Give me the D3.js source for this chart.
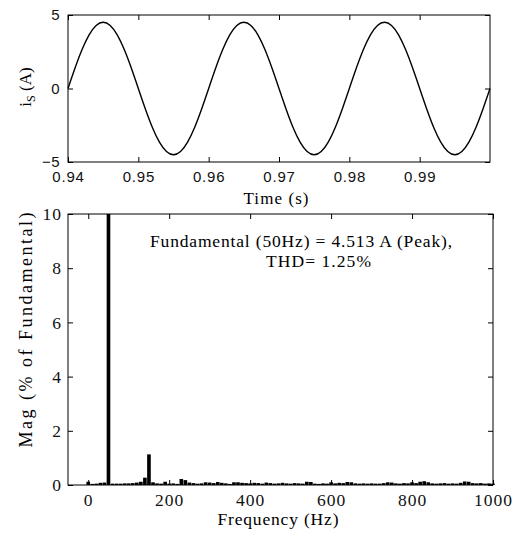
<!DOCTYPE html>
<html><head><meta charset="utf-8">
<script src="https://cdn.jsdelivr.net/npm/d3@7"></script>
<style>body{margin:0;background:#fff}svg{display:block}</style>
</head><body>
<svg id="c" width="518" height="533"></svg>
<script>
// ---- data ----
const timeValues = [0.940,0.941,0.942,0.943,0.944,0.945,0.946,0.947,0.948,0.949,
  0.950,0.951,0.952,0.953,0.954,0.955,0.956,0.957,0.958,0.959,
  0.960,0.961,0.962,0.963,0.964,0.965,0.966,0.967,0.968,0.969,
  0.970,0.971,0.972,0.973,0.974,0.975,0.976,0.977,0.978,0.979,
  0.980,0.981,0.982,0.983,0.984,0.985,0.986,0.987,0.988,0.989,
  0.990,0.991,0.992,0.993,0.994,0.995,0.996,0.997,0.998,0.999,1.000];
const currentValues = [0,1.39,2.65,3.65,4.29,4.51,4.29,3.65,2.65,1.39,
  0,-1.39,-2.65,-3.65,-4.29,-4.51,-4.29,-3.65,-2.65,-1.39,
  0,1.39,2.65,3.65,4.29,4.51,4.29,3.65,2.65,1.39,
  0,-1.39,-2.65,-3.65,-4.29,-4.51,-4.29,-3.65,-2.65,-1.39,
  0,1.39,2.65,3.65,4.29,4.51,4.29,3.65,2.65,1.39,
  0,-1.39,-2.65,-3.65,-4.29,-4.51,-4.29,-3.65,-2.65,-1.39,0];
const timeTicks = [0.94,0.95,0.96,0.97,0.98,0.99];
const currentTicks = [-5,0,5];

const freqValues = [0,10,20,30,40,50,60,70,80,90,100,110,120,130,140,150,160,170,180,190,
  200,210,220,230,240,250,260,270,280,290,300,310,320,330,340,350,360,370,380,390,
  400,410,420,430,440,450,460,470,480,490,500,510,520,530,540,550,560,570,580,590,
  600,610,620,630,640,650,660,670,680,690,700,710,720,730,740,750,760,770,780,790,
  800,810,820,830,840,850,860,870,880,890,900,910,920,930,940,950,960,970,980,990,1000];
const magValues = [0.12,0.04,0.05,0.08,0.09,100,0.05,0.05,0.05,0.06,0.06,0.07,0.09,0.12,0.27,1.13,0.10,0.06,0.05,0.12,
  0.05,0.06,0.04,0.22,0.18,0.09,0.07,0.05,0.06,0.10,0.09,0.07,0.11,0.08,0.06,0.04,0.10,0.10,0.08,0.07,
  0.06,0.08,0.07,0.05,0.09,0.07,0.05,0.06,0.08,0.06,0.05,0.07,0.06,0.05,0.12,0.11,0.05,0.04,0.06,0.05,
  0.10,0.06,0.08,0.07,0.11,0.10,0.06,0.05,0.06,0.05,0.06,0.05,0.05,0.07,0.10,0.09,0.06,0.05,0.07,0.06,
  0.10,0.07,0.12,0.14,0.10,0.06,0.05,0.06,0.07,0.05,0.06,0.05,0.08,0.13,0.12,0.07,0.06,0.07,0.05,0.06,0.05];
const freqTicks = [0,200,400,600,800,1000];
const magTicks = [0,2,4,6,8,10];
const annotationLines = ["Fundamental (50Hz) = 4.513 A (Peak),", "THD= 1.25%"];

// ---- drawing ----
const svg = d3.select("#c");
svg.append("rect").attr("width",518).attr("height",533).attr("fill","#fff");
const serif = "'Liberation Serif','Times New Roman',serif";
const sans = "'Liberation Sans',Arial,sans-serif";

// Top plot
const T = {l:68, r:490, t:15, b:162};
const xT = d3.scaleLinear().domain([0.94,1.0]).range([T.l,T.r]);
const yT = d3.scaleLinear().domain([-5,5]).range([T.b,T.t]);
const gT = svg.append("g");

function styleAxis(g, font, size, ls){
  g.select(".domain").remove();
  g.selectAll(".tick line").attr("stroke","#000").attr("stroke-width",1);
  g.selectAll(".tick text").attr("font-family",font).attr("font-size",size).attr("fill","#111")
    .attr("letter-spacing", ls||0);
}
gT.append("g").attr("transform",`translate(0,${T.b})`)
  .call(d3.axisBottom(xT).tickValues(timeTicks).tickFormat(d3.format(".2f")).tickSizeInner(-5).tickSizeOuter(0).tickPadding(9))
  .call(g=>styleAxis(g,sans,15,0.8));
gT.append("g").attr("transform",`translate(0,${T.t})`)
  .call(d3.axisTop(xT).tickValues(timeTicks).tickFormat("").tickSizeInner(-5).tickSizeOuter(0))
  .call(g=>styleAxis(g,sans,15));
gT.append("g").attr("transform",`translate(${T.l},0)`)
  .call(d3.axisLeft(yT).tickValues(currentTicks).tickFormat(d3.format("d")).tickSizeInner(-5).tickSizeOuter(0).tickPadding(8))
  .call(g=>styleAxis(g,sans,15,0.5));
gT.append("g").attr("transform",`translate(${T.r},0)`)
  .call(d3.axisRight(yT).tickValues(currentTicks).tickFormat("").tickSizeInner(-5).tickSizeOuter(0))
  .call(g=>styleAxis(g,sans,15));
gT.append("path")
  .datum(timeValues.map((t,i)=>[t,currentValues[i]]))
  .attr("fill","none").attr("stroke","#000").attr("stroke-width",1.4)
  .attr("d", d3.line().x(d=>xT(d[0])).y(d=>yT(d[1])).curve(d3.curveNatural));
gT.append("rect").attr("x",T.l).attr("y",T.t).attr("width",T.r-T.l).attr("height",T.b-T.t)
  .attr("fill","none").attr("stroke","#000").attr("stroke-width",1);
// labels
const yl = gT.append("text").attr("transform","translate(31,87) rotate(-90)")
  .attr("text-anchor","middle").attr("font-family",serif).attr("font-size",17).attr("fill","#000");
yl.append("tspan").text("i");
yl.append("tspan").attr("font-size",12).attr("dy",4).text("S");
yl.append("tspan").attr("dy",-4).text(" (A)");
gT.append("text").attr("x",276).attr("y",204).attr("text-anchor","middle")
  .attr("font-family",serif).attr("font-size",17).attr("textLength",65).attr("lengthAdjust","spacing")
  .attr("fill","#000").text("Time (s)");

// Bottom plot
const B = {l:68, r:493, t:214, b:485};
const xB = d3.scaleLinear().domain([-50,1000]).range([B.l,B.r]);
const yB = d3.scaleLinear().domain([0,10]).range([B.b,B.t]).clamp(true);
const gB = svg.append("g");
gB.append("g").attr("transform",`translate(0,${B.b})`)
  .call(d3.axisBottom(xB).tickValues(freqTicks).tickFormat(d3.format("d")).tickSizeInner(-5).tickSizeOuter(0).tickPadding(9))
  .call(g=>styleAxis(g,serif,17.5,1));
gB.append("g").attr("transform",`translate(0,${B.t})`)
  .call(d3.axisTop(xB).tickValues(freqTicks).tickFormat("").tickSizeInner(-5).tickSizeOuter(0))
  .call(g=>styleAxis(g,serif,17));
gB.append("g").attr("transform",`translate(${B.l},0)`)
  .call(d3.axisLeft(yB).tickValues(magTicks).tickFormat(d3.format("d")).tickSizeInner(-5).tickSizeOuter(0).tickPadding(6))
  .call(g=>styleAxis(g,serif,17.5,1));
gB.append("g").attr("transform",`translate(${B.r},0)`)
  .call(d3.axisRight(yB).tickValues(magTicks).tickFormat("").tickSizeInner(-5).tickSizeOuter(0))
  .call(g=>styleAxis(g,serif,17));
const step = xB(10)-xB(0);
const bw = step*0.9;
gB.selectAll("rect.bar").data(freqValues.map((f,i)=>({f,m:magValues[i]}))).enter()
  .append("rect").attr("class","bar")
  .attr("x",d=>xB(d.f)-bw/2).attr("width",bw)
  .attr("y",d=>yB(d.m)).attr("height",d=>B.b-yB(d.m))
  .attr("fill","#000");
gB.append("rect").attr("x",B.l).attr("y",B.t).attr("width",B.r-B.l).attr("height",B.b-B.t)
  .attr("fill","none").attr("stroke","#000").attr("stroke-width",1);
gB.append("text").attr("transform","translate(32,330) rotate(-90)")
  .attr("text-anchor","middle").attr("font-family",serif).attr("font-size",18)
  .attr("textLength",235).attr("lengthAdjust","spacing").attr("fill","#000")
  .text("Mag (% of Fundamental)");
gB.append("text").attr("x",278).attr("y",525).attr("text-anchor","middle")
  .attr("font-family",serif).attr("font-size",17.5).attr("textLength",121).attr("lengthAdjust","spacing")
  .attr("fill","#000").text("Frequency (Hz)");
gB.append("text").attr("x",150).attr("y",247).attr("font-family",serif).attr("font-size",17.5)
  .attr("textLength",302).attr("lengthAdjust","spacing").attr("fill","#000")
  .text(annotationLines[0]);
gB.append("text").attr("x",266).attr("y",267).attr("font-family",serif).attr("font-size",17.5)
  .attr("textLength",105).attr("lengthAdjust","spacing").attr("fill","#000")
  .text(annotationLines[1]);
</script>
</body></html>
